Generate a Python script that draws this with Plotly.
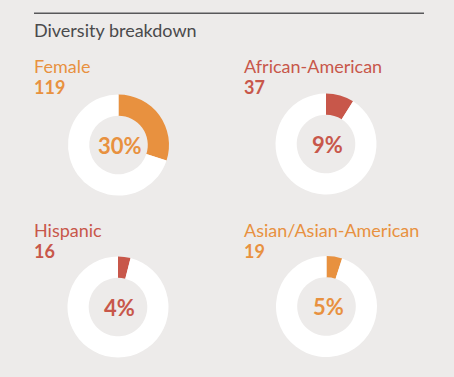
import plotly.graph_objects as go

W, H = 454, 377

categories = ["Female", "African-American", "Hispanic", "Asian/Asian-American"]
counts = [119, 37, 16, 19]
percents = [30, 9, 4, 5]
colors = ["#E8913F", "#C8574A", "#C8574A", "#E8913F"]

BG = "#EDEBEA"
FONT = "Lato"

# layout (pixel) positions for each panel: donut centre and label left edge
centers = [(118.5, 145), (326, 144), (118, 307), (326.5, 306.5)]
label_x = [32, 242, 32, 242]
label_y = [66, 66, 230, 230]
count_y = [87, 87, 251, 251]
R = 50.5


def px(x):
    return x / W


def py(y):
    return 1 - y / H


fig = go.Figure()

for i, cat in enumerate(categories):
    cx, cy = centers[i]
    fig.add_trace(go.Pie(
        values=[percents[i], 100 - percents[i]],
        labels=[cat, "Other"],
        marker=dict(colors=[colors[i], "#FFFFFF"], line=dict(width=0)),
        hole=0.58,
        sort=False,
        direction="clockwise",
        rotation=0,
        textinfo="none",
        hoverinfo="label+percent",
        showlegend=False,
        domain=dict(x=[px(cx - R), px(cx + R)], y=[py(cy + R), py(cy - R)]),
    ))
    fig.add_annotation(
        x=px(label_x[i]), y=py(label_y[i]), xref="paper", yref="paper",
        text=cat, showarrow=False, xanchor="left", yanchor="middle",
        font=dict(family=FONT, size=18, color=colors[i]),
    )
    fig.add_annotation(
        x=px(label_x[i]), y=py(count_y[i]), xref="paper", yref="paper",
        text="<b>%d</b>" % counts[i], showarrow=False, xanchor="left", yanchor="middle",
        font=dict(family=FONT, size=18, color=colors[i]),
    )
    fig.add_annotation(
        x=px(cx + 1.5), y=py(cy), xref="paper", yref="paper",
        text="<b>%d%%</b>" % percents[i], showarrow=False, xanchor="center", yanchor="middle",
        font=dict(family=FONT, size=22, color=colors[i]),
    )

fig.add_annotation(
    x=px(32), y=py(29.5), xref="paper", yref="paper",
    text="Diversity breakdown", showarrow=False, xanchor="left", yanchor="middle",
    font=dict(family=FONT, size=18, color="#4A4A4C"),
)

fig.add_shape(type="line", xref="paper", yref="paper",
              x0=px(34), x1=px(424), y0=py(13.3), y1=py(13.3),
              line=dict(color="#58585A", width=1.5))

fig.update_layout(
    width=W, height=H,
    margin=dict(l=0, r=0, t=0, b=0),
    paper_bgcolor=BG, plot_bgcolor=BG,
)

fig.write_html("out.html", config={"displayModeBar": False},
               post_script="document.body.style.margin='0';document.body.style.background='%s';" % BG)
